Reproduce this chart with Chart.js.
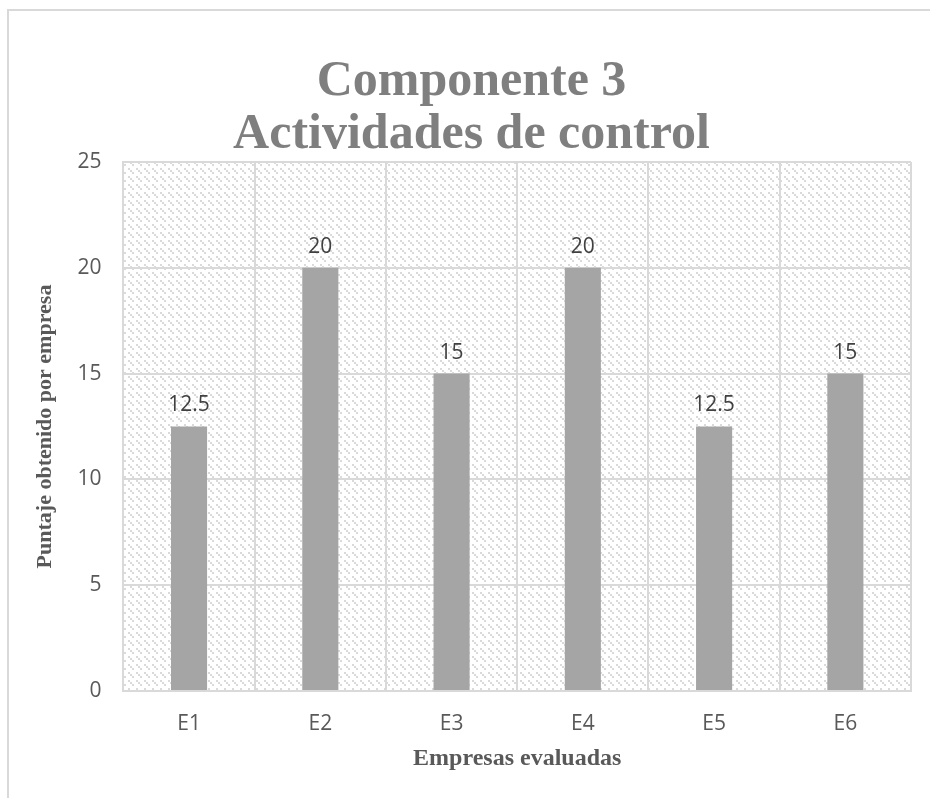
<!DOCTYPE html>
<html>
<head>
<meta charset="utf-8">
<script src="https://cdn.jsdelivr.net/npm/chart.js@4/dist/chart.umd.min.js"></script>
<style>
  html, body { margin: 0; padding: 0; background: #ffffff; }
  #wrap { width: 930px; height: 798px; position: relative; }
</style>
</head>
<body>
<div id="wrap"><canvas id="chart" width="930" height="798"></canvas></div>
<script>
// Scores per evaluated company
const empresas = ['E1', 'E2', 'E3', 'E4', 'E5', 'E6'];
const puntajes = [12.5, 20, 15, 20, 12.5, 15];
const tituloLineas = ['Componente 3', 'Actividades de control'];
const tituloEjeY = 'Puntaje obtenido por empresa';
const tituloEjeX = 'Empresas evaluadas';

// Light dotted downward-diagonal hatch used as the plot-area fill
function makeHatch() {
  const c = document.createElement('canvas');
  c.width = 8; c.height = 8;
  const g = c.getContext('2d');
  g.fillStyle = '#ffffff';
  g.fillRect(0, 0, 8, 8);
  g.fillStyle = '#dadada';
  [[0, 0], [2, 2], [4, 4]].forEach(([x, y]) => g.fillRect(x, y, 2, 2));
  return g.createPattern(c, 'repeat');
}

const hatch = makeHatch();

const plotBackground = {
  id: 'plotBackground',
  beforeDraw(chart) {
    const { ctx, chartArea: a } = chart;
    ctx.save();
    // outer chart frame
    ctx.strokeStyle = '#d9d9d9';
    ctx.lineWidth = 2;
    ctx.strokeRect(8, 10, 960, 900);
    // hatched plot area
    ctx.fillStyle = hatch;
    ctx.fillRect(a.left, a.top, a.right - a.left, a.bottom - a.top);
    ctx.restore();
  }
};

const valueLabels = {
  id: 'valueLabels',
  afterDatasetsDraw(chart) {
    const { ctx } = chart;
    const meta = chart.getDatasetMeta(0);
    ctx.save();
    ctx.font = '21px "Open Sans"';
    ctx.fillStyle = '#404040';
    ctx.textAlign = 'center';
    ctx.textBaseline = 'middle';
    meta.data.forEach((bar, i) => {
      ctx.fillText(String(puntajes[i]), bar.x, bar.y - 21);
    });
    ctx.restore();
  }
};

new Chart(document.getElementById('chart'), {
  type: 'bar',
  data: {
    labels: empresas,
    datasets: [{
      data: puntajes,
      backgroundColor: '#a5a5a5',
      borderWidth: 0,
      barPercentage: 0.275,
      categoryPercentage: 1
    }]
  },
  options: {
    responsive: false,
    animation: false,
    layout: { padding: { left: 32, right: 19, top: 0, bottom: 25 } },
    plugins: {
      legend: { display: false },
      tooltip: { enabled: false },
      title: {
        display: true,
        text: tituloLineas,
        color: '#7f7f7f',
        font: { family: '"Liberation Serif"', size: 50, weight: 'bold', lineHeight: 1.07 },
        padding: { top: 55, bottom: 0 }
      }
    },
    scales: {
      x: {
        grid: { color: '#d9d9d9', lineWidth: 2, drawTicks: false, offset: true },
        border: { color: '#d9d9d9', width: 2 },
        ticks: { color: '#595959', font: { family: '"Open Sans"', size: 21 }, padding: 20 },
        title: {
          display: true,
          text: tituloEjeX,
          color: '#595959',
          font: { family: '"Liberation Serif"', size: 24, weight: 'bold' },
          padding: { top: -12, bottom: 0 }
        }
      },
      y: {
        min: 0,
        max: 25,
        ticks: { stepSize: 5, color: '#595959', font: { family: '"Open Sans"', size: 21 }, padding: 22 },
        grid: { color: '#d9d9d9', lineWidth: 2, drawTicks: false },
        border: { color: '#d9d9d9', width: 2 },
        title: {
          display: true,
          text: tituloEjeY,
          color: '#595959',
          font: { family: '"Liberation Serif"', size: 22, weight: 'bold' },
          padding: { top: 0, bottom: -3 }
        }
      }
    }
  },
  plugins: [plotBackground, valueLabels]
});
</script>
</body>
</html>
